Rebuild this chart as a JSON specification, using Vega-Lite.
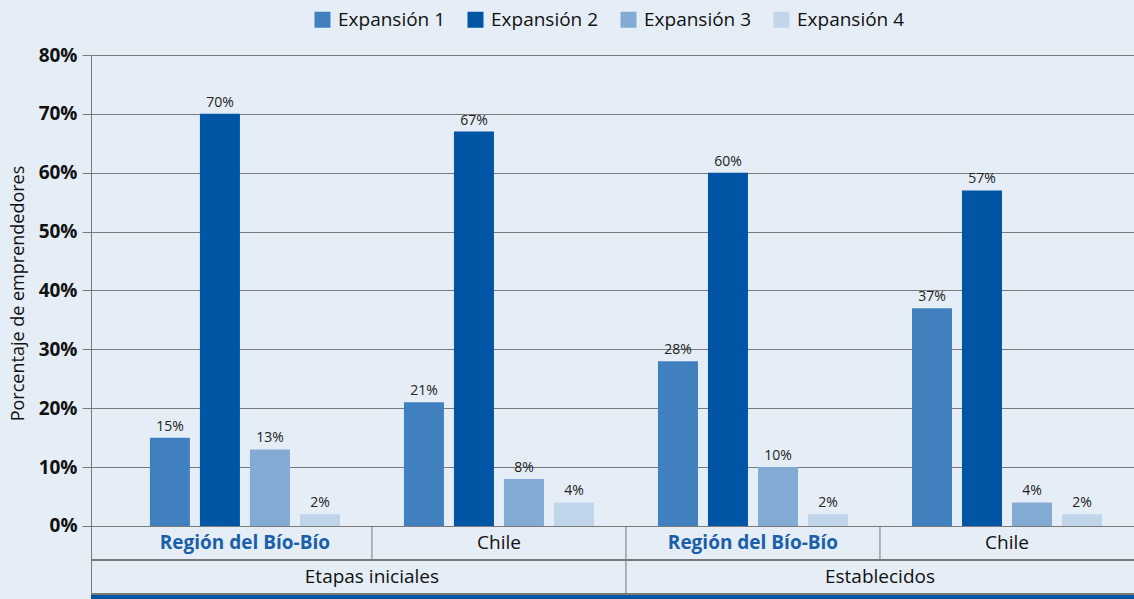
{
  "$schema": "https://vega.github.io/schema/vega-lite/v6.json",
  "autosize": {"type": "none"},
  "padding": {"left": 91, "top": 55, "right": 0, "bottom": 0},
  "width": 1043,
  "height": 544,
  "background": "#E5EDF6",
  "config": {
    "font": "Open Sans",
    "view": {"stroke": null},
    "legend": {"symbolStrokeWidth": 0}
  },
  "datasets": {
    "barras": [
      {"cluster": "Etapas iniciales – Región del Bío-Bío", "etapa": "Etapas iniciales", "zona": "Región del Bío-Bío", "serie": "Expansión 1", "valor": 15},
      {"cluster": "Etapas iniciales – Región del Bío-Bío", "etapa": "Etapas iniciales", "zona": "Región del Bío-Bío", "serie": "Expansión 2", "valor": 70},
      {"cluster": "Etapas iniciales – Región del Bío-Bío", "etapa": "Etapas iniciales", "zona": "Región del Bío-Bío", "serie": "Expansión 3", "valor": 13},
      {"cluster": "Etapas iniciales – Región del Bío-Bío", "etapa": "Etapas iniciales", "zona": "Región del Bío-Bío", "serie": "Expansión 4", "valor": 2},
      {"cluster": "Etapas iniciales – Chile", "etapa": "Etapas iniciales", "zona": "Chile", "serie": "Expansión 1", "valor": 21},
      {"cluster": "Etapas iniciales – Chile", "etapa": "Etapas iniciales", "zona": "Chile", "serie": "Expansión 2", "valor": 67},
      {"cluster": "Etapas iniciales – Chile", "etapa": "Etapas iniciales", "zona": "Chile", "serie": "Expansión 3", "valor": 8},
      {"cluster": "Etapas iniciales – Chile", "etapa": "Etapas iniciales", "zona": "Chile", "serie": "Expansión 4", "valor": 4},
      {"cluster": "Establecidos – Región del Bío-Bío", "etapa": "Establecidos", "zona": "Región del Bío-Bío", "serie": "Expansión 1", "valor": 28},
      {"cluster": "Establecidos – Región del Bío-Bío", "etapa": "Establecidos", "zona": "Región del Bío-Bío", "serie": "Expansión 2", "valor": 60},
      {"cluster": "Establecidos – Región del Bío-Bío", "etapa": "Establecidos", "zona": "Región del Bío-Bío", "serie": "Expansión 3", "valor": 10},
      {"cluster": "Establecidos – Región del Bío-Bío", "etapa": "Establecidos", "zona": "Región del Bío-Bío", "serie": "Expansión 4", "valor": 2},
      {"cluster": "Establecidos – Chile", "etapa": "Establecidos", "zona": "Chile", "serie": "Expansión 1", "valor": 37},
      {"cluster": "Establecidos – Chile", "etapa": "Establecidos", "zona": "Chile", "serie": "Expansión 2", "valor": 57},
      {"cluster": "Establecidos – Chile", "etapa": "Establecidos", "zona": "Chile", "serie": "Expansión 3", "valor": 4},
      {"cluster": "Establecidos – Chile", "etapa": "Establecidos", "zona": "Chile", "serie": "Expansión 4", "valor": 2}
    ]
  },
  "data": {"name": "barras"},
  "encoding": {
    "x": {
      "field": "cluster",
      "type": "nominal",
      "sort": ["Etapas iniciales – Región del Bío-Bío", "Etapas iniciales – Chile", "Establecidos – Región del Bío-Bío", "Establecidos – Chile"],
      "scale": {"paddingInner": 0, "paddingOuter": 0.053, "align": 1},
      "axis": null
    }
  },
  "layer": [
    {
      "mark": {"type": "bar"},
      "encoding": {
        "xOffset": {"field": "serie", "type": "nominal", "scale": {"paddingInner": 0.2, "paddingOuter": 0.64}},
        "y": {
          "field": "valor",
          "type": "quantitative",
          "scale": {"domain": [-12.4, 80], "nice": false, "zero": false},
          "axis": {
            "values": [0, 10, 20, 30, 40, 50, 60, 70, 80],
            "labelExpr": "datum.value + '%'",
            "labelFontWeight": "bold",
            "labelFontSize": 19,
            "labelColor": "#111111",
            "labelPadding": 5,
            "tickSize": 9,
            "tickColor": "#7A7A7A",
            "domainColor": "#7A7A7A",
            "grid": true,
            "gridColor": "#7A7A7A",
            "gridWidth": 1,
            "title": "Porcentaje de emprendedores",
            "titleFontSize": 18,
            "titleFontWeight": "normal",
            "titleColor": "#111111",
            "titleX": -73,
            "titleY": 238,
            "titleAngle": -90,
            "titleAlign": "center",
            "titleBaseline": "middle"
          }
        },
        "color": {
          "field": "serie",
          "type": "nominal",
          "scale": {
            "domain": ["Expansión 1", "Expansión 2", "Expansión 3", "Expansión 4"],
            "range": ["#4180BE", "#0055A5", "#82AAD3", "#C0D4EA"]
          },
          "legend": {
            "orient": "none",
            "legendX": 222,
            "legendY": -45,
            "direction": "horizontal",
            "title": null,
            "symbolType": "square",
            "symbolSize": 256,
            "labelFontSize": 19,
            "labelColor": "#111111",
            "columnPadding": 20,
            "labelOffset": 6
          }
        }
      }
    },
    {
      "transform": [{"calculate": "datum.valor + '%'", "as": "etiqueta"}],
      "mark": {"type": "text", "baseline": "bottom", "dy": -4, "fontSize": 14, "color": "#222222"},
      "encoding": {
        "xOffset": {"field": "serie", "type": "nominal", "scale": {"paddingInner": 0.2, "paddingOuter": 0.64}},
        "y": {"field": "valor", "type": "quantitative"},
        "text": {"field": "etiqueta", "type": "nominal"}
      }
    },
    {
      "mark": {"type": "rule", "color": "#7A7A7A", "strokeWidth": 1},
      "encoding": {"y": {"datum": -5.775}, "x": {"value": 0}, "x2": {"value": 1043}}
    },
    {
      "mark": {"type": "rule", "color": "#7A7A7A", "strokeWidth": 1},
      "encoding": {"y": {"datum": -11.55}, "x": {"value": 0}, "x2": {"value": 1043}}
    },
    {
      "mark": {"type": "rect", "color": "#0055A5"},
      "encoding": {"y": {"datum": -11.7}, "y2": {"datum": -12.4}, "x": {"value": 0}, "x2": {"value": 1043}}
    },
    {
      "transform": [{"filter": "datum.serie === 'Expansión 1' && datum.zona === 'Chile'"}],
      "mark": {"type": "rule", "color": "#7A7A7A", "strokeWidth": 1},
      "encoding": {
        "x": {"field": "cluster", "type": "nominal", "bandPosition": 0},
        "y": {"datum": 0},
        "y2": {"datum": -5.775}
      }
    },
    {
      "transform": [{"filter": "datum.serie === 'Expansión 1' && datum.zona === 'Región del Bío-Bío' && datum.etapa === 'Establecidos'"}],
      "mark": {"type": "rule", "color": "#7A7A7A", "strokeWidth": 1},
      "encoding": {
        "x": {"field": "cluster", "type": "nominal", "bandPosition": 0},
        "y": {"datum": 0},
        "y2": {"datum": -11.55}
      }
    },
    {
      "transform": [{"filter": "datum.serie === 'Expansión 1' && datum.zona === 'Región del Bío-Bío'"}],
      "mark": {"type": "text", "baseline": "middle", "fontSize": 19, "fontWeight": "bold", "color": "#1B5FAA"},
      "encoding": {
        "y": {"datum": -2.89},
        "text": {"field": "zona"}
      }
    },
    {
      "transform": [{"filter": "datum.serie === 'Expansión 1' && datum.zona === 'Chile'"}],
      "mark": {"type": "text", "baseline": "middle", "fontSize": 19, "color": "#111111"},
      "encoding": {
        "y": {"datum": -2.89},
        "text": {"field": "zona"}
      }
    },
    {
      "transform": [{"filter": "datum.serie === 'Expansión 1' && datum.zona === 'Chile'"}],
      "mark": {"type": "text", "baseline": "middle", "fontSize": 19, "color": "#111111"},
      "encoding": {
        "x": {"field": "cluster", "type": "nominal", "bandPosition": 0},
        "y": {"datum": -8.66},
        "text": {"field": "etapa"}
      }
    }
  ]
}
